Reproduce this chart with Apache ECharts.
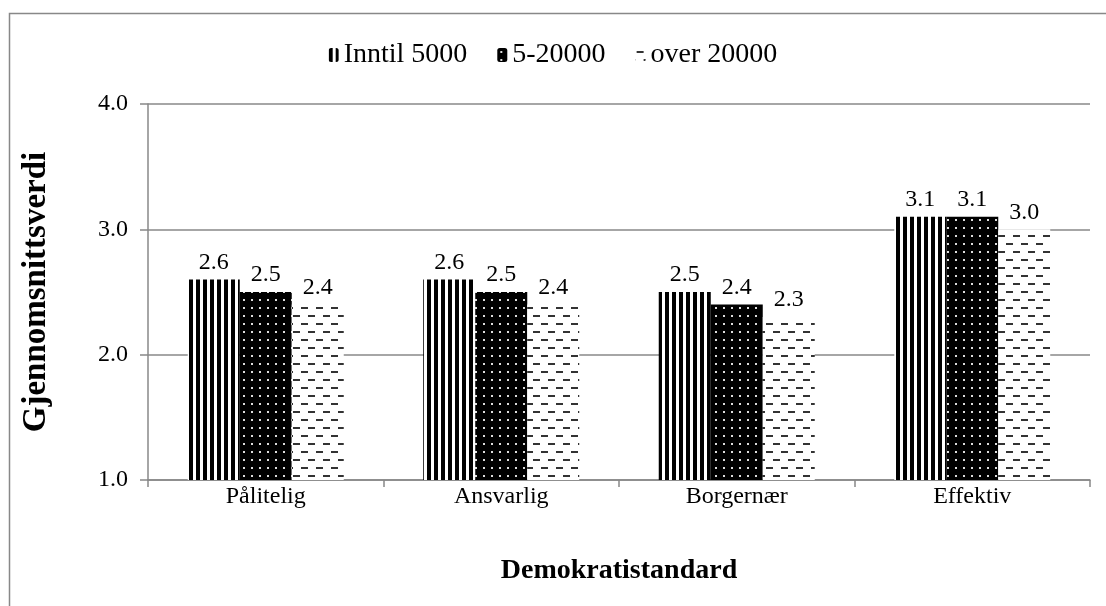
<!DOCTYPE html>
<html><head><meta charset="utf-8">
<script src="https://cdn.jsdelivr.net/npm/echarts@6/dist/echarts.min.js"></script>
<style>html,body{margin:0;padding:0;background:#fff}#c{width:1106px;height:606px}</style>
</head><body><div id="c"></div>
<script>
const categories = ['Pålitelig', 'Ansvarlig', 'Borgernær', 'Effektiv'];
const seriesNames = ['Inntil 5000', '5-20000', 'over 20000'];
const inntil5000 = [2.6, 2.6, 2.5, 3.1];
const s5to20000 = [2.5, 2.5, 2.4, 3.1];
const over20000 = [2.4, 2.4, 2.3, 3.0];
const yTicks = [1, 2, 3, 4];

const FONT = '"Liberation Serif", "Times New Roman", serif';

function tile(w, h, draw) {
  const c = document.createElement('canvas');
  c.width = w; c.height = h;
  const g = c.getContext('2d');
  draw(g);
  return { image: c, repeat: 'repeat' };
}
const stripes = tile(7, 7, g => { g.fillStyle = '#fff'; g.fillRect(0,0,7,7); g.fillStyle = '#000'; g.fillRect(0,0,4,7); });
const dots = tile(8, 8, g => { g.fillStyle = '#000'; g.fillRect(0,0,8,8); g.fillStyle = '#ddd'; g.fillRect(3,3,2,2); });
const dashes = tile(15, 16, g => { g.fillStyle = '#fff'; g.fillRect(0,0,15,16); g.fillStyle = '#333'; g.fillRect(1,3,7,2); g.fillRect(8,11,7,2); });
const patterns = [stripes, dots, dashes];
const dataSets = [inntil5000, s5to20000, over20000];

const chart = echarts.init(document.getElementById('c'), null, { renderer: 'canvas' });
chart.setOption({
  animation: false,
  backgroundColor: '#fff',
  graphic: [{ type: 'rect', shape: { x: 9.5, y: 13.5, width: 1200, height: 700 }, style: { fill: 'none', stroke: '#888', lineWidth: 1.5 }, silent: true }],
  legend: {
    top: 36, left: 'center',
    itemWidth: 10, itemHeight: 14, itemGap: 30,
    textStyle: { fontFamily: FONT, fontSize: 28, color: '#000' },
    data: seriesNames
  },
  grid: { left: 148, right: 16, top: 104, bottom: 126 },
  xAxis: {
    type: 'category', data: categories,
    name: 'Demokratistandard', nameLocation: 'middle', nameGap: 77,
    nameTextStyle: { fontFamily: FONT, fontSize: 28, fontWeight: 'bold', color: '#000' },
    axisLine: { lineStyle: { color: '#888', width: 1.5 } },
    axisTick: { show: true, length: 7, lineStyle: { color: '#888', width: 1.5 } },
    axisLabel: { fontFamily: FONT, fontSize: 24, color: '#000', margin: 5 }
  },
  yAxis: {
    type: 'value', min: 1, max: 4, interval: 1,
    name: 'Gjennomsnittsverdi', nameLocation: 'middle', nameGap: 95, nameRotate: 90,
    nameTextStyle: { fontFamily: FONT, fontSize: 33, fontWeight: 'bold', color: '#000' },
    axisLine: { show: true, lineStyle: { color: '#888', width: 1.5 } },
    axisTick: { show: true, length: 8, lineStyle: { color: '#888', width: 1.5 } },
    splitLine: { lineStyle: { color: '#888', width: 1.5 } },
    axisLabel: { fontFamily: FONT, fontSize: 24, color: '#000', margin: 20, formatter: v => v.toFixed(1) }
  },
  series: dataSets.map((d, i) => ({
    name: seriesNames[i], type: 'bar', data: d,
    barWidth: 52, barGap: '0%',
    itemStyle: { color: patterns[i] },
    label: { show: true, position: 'top', distance: 5, fontFamily: FONT, fontSize: 24, color: '#000', formatter: p => p.value.toFixed(1) }
  }))
});
</script></body></html>
